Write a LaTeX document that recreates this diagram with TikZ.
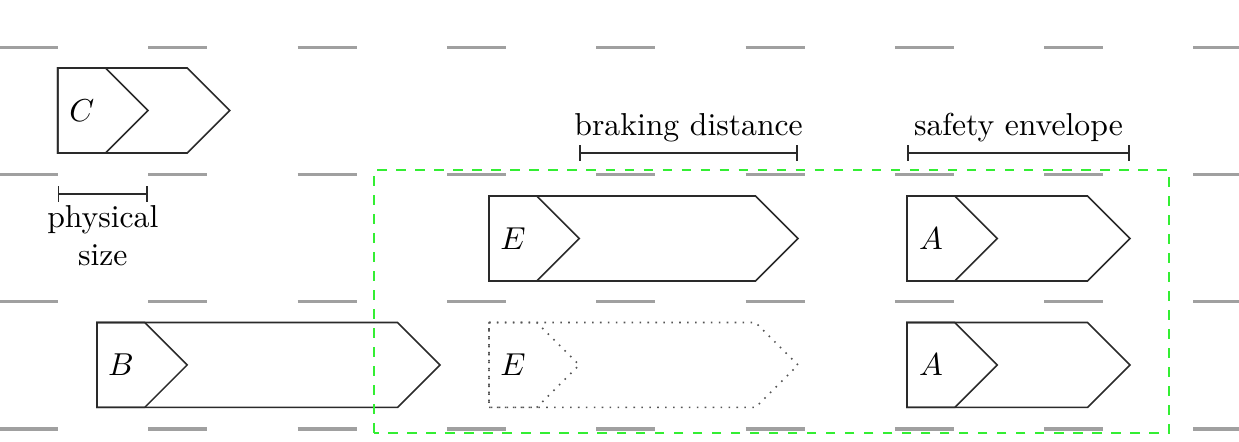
\documentclass[tikz,border=0pt]{standalone}
\usetikzlibrary{arrows.meta}
\definecolor{lanegray}{HTML}{A0A0A0}
\definecolor{zonegreen}{HTML}{33EE33}
\definecolor{inkgray}{HTML}{2A2A2A}
\tikzset{
  lane/.style={draw=lanegray,line width=1.1pt,dash pattern=on 0.655cm off 1cm},
  car/.style={draw=inkgray,line width=0.5pt,line join=miter},
  ghost/.style={draw=inkgray!80,line width=0.5pt,dotted},
  carlabel/.style={inner sep=0pt},
  zone/.style={draw=zonegreen,line width=0.8pt,dashed},
  span/.style={{Bar[width=5pt]}-{Bar[width=5pt]},draw=inkgray,line width=0.5pt},
  spanlabel/.style={align=center}
}
\begin{document}
\begin{tikzpicture}[x=1cm,y=1cm]
\path[use as bounding box] (0,0) rectangle (13.736,4.9);
% lane markings
\foreach \ly in {0.145,1.555,2.965,4.375}{
\draw[lane] (-0.01,\ly) -- (13.736,\ly);
}
% vehicles: id/label/tail x/centre y/length/style
\def\hh{0.471}
\foreach \id/\nm/\x/\y/\len/\sty in {C/C/0.64/3.675/1.907/car,E1/E/5.421/2.256/3.426/car,A1/A/10.055/2.256/2.472/car,B/B/1.075/0.854/3.803/car,E2/E/5.421/0.854/3.426/ghost,A2/A/10.055/0.854/2.472/car}{
\foreach \l in {1,\len}
\draw[\sty] (\x,\y+\hh) -- ++(\l-\hh,0) -- ++(\hh,-\hh) -- ++(-\hh,-\hh) -- (\x,\y-\hh) -- cycle;
\node[carlabel] (\id) at (\x+0.266,\y) {$\nm$};
}
% region of interest
\draw[zone] (4.146,0.1) rectangle (12.96,3.016);
% dimension brackets
\coordinate (physL) at (0.64,2.749); \coordinate (physR) at (1.64,2.749);
\coordinate (brakeL) at (6.421,3.204); \coordinate (brakeR) at (8.847,3.204);
\coordinate (safeL) at (10.055,3.204); \coordinate (safeR) at (12.527,3.204);
\draw[span] (physL) -- node[below,spanlabel] {physical\\size} (physR);
\draw[span] (brakeL) -- node[above] {braking distance} (brakeR);
\draw[span] (safeL) -- node[above] {safety envelope} (safeR);
\end{tikzpicture}
\end{document}
